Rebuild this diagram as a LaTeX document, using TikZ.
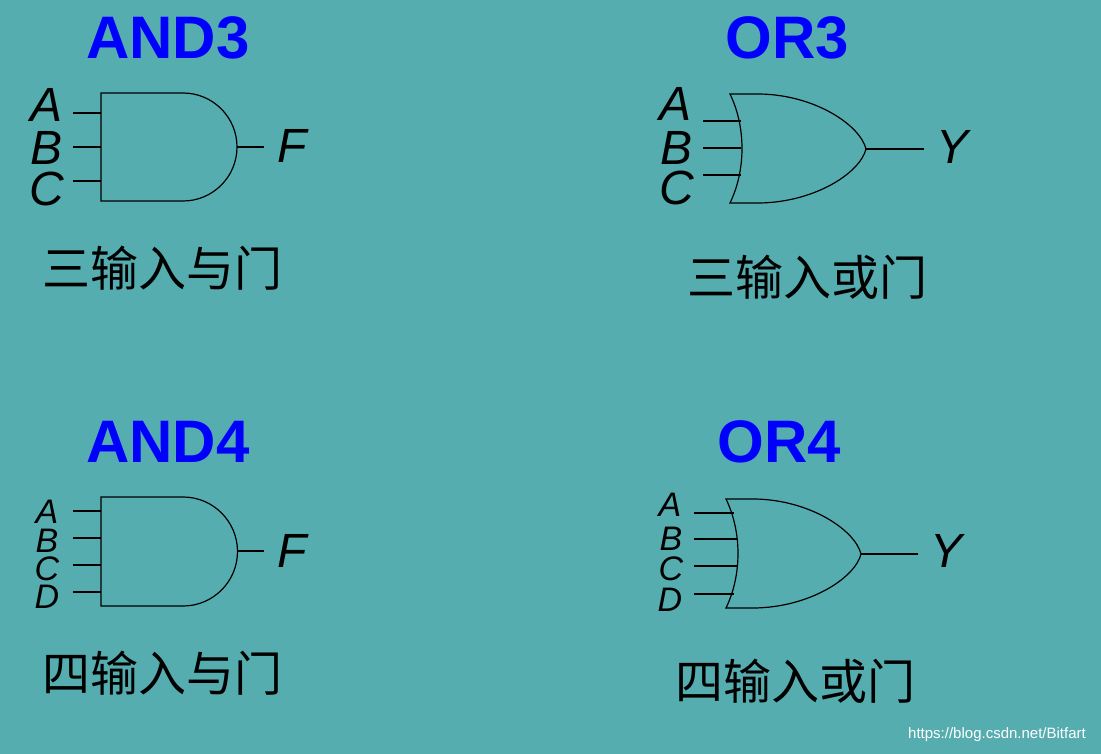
\documentclass[tikz,border=0pt]{standalone}
\usepackage{fontspec}
\setmainfont{Liberation Sans}
\newfontfamily\cjk{Noto Sans CJK SC}
\definecolor{bg}{RGB}{86,173,176}
\definecolor{ttl}{RGB}{0,0,255}
\begin{document}
\begin{tikzpicture}[x=1pt,y=-1pt,
  title/.style={text=ttl,font=\fontsize{60}{60}\selectfont\bfseries,inner sep=0},
  big/.style={font=\fontsize{48}{48}\selectfont\itshape,inner sep=0},
  small/.style={font=\fontsize{34}{34}\selectfont\itshape,inner sep=0},
  zh/.style={font=\cjk\fontsize{48}{48}\selectfont,inner sep=0},
  gate/.style={draw=black,line width=1.2pt},
  wire/.style={draw=black,line width=1.2pt}]
\fill[bg] (0,0) rectangle (1101,754);
\useasboundingbox (0,0) rectangle (1101,754);
% titles
\node[title] (t1) at (168,38) {AND3};
\node[title] (t2) at (787,38) {OR3};
\node[title] (t3) at (168,442) {AND4};
\node[title] (t4) at (779,442) {OR4};
% chinese
\node[zh] (z1) at (162,268) {三输入与门};
\node[zh] (z2) at (807,277) {三输入或门};
\node[zh] (z3) at (162,673) {四输入与门};
\node[zh] (z4) at (795,681) {四输入或门};
\node[text=white,font=\fontsize{15}{15}\selectfont,inner sep=0] (wm) at (997,735) {https://blog.csdn.net/Bitfart};
% AND3
\draw[gate] (183,201) -- (101,201) -- (101,93) -- (183,93) arc[start angle=-90,end angle=90,radius=54];
\foreach \y/\n in {113/a,147/b,181/c}{\coordinate (g1\n) at (73,\y); \coordinate (h1\n) at (101,\y); \draw[wire] (g1\n) -- (h1\n);}
\coordinate (o1) at (237,147); \coordinate (e1) at (264,147); \draw[wire] (o1) -- (e1);
\node[big] (l1a) at (47,105) {A};
\node[big] (l1b) at (47,148) {B};
\node[big] (l1c) at (47,189) {C};
\node[big] (l1f) at (292,146) {F};
% AND4
\draw[gate] (183,606) -- (101,606) -- (101,497) -- (183,497) arc[start angle=-90,end angle=90,radius=54.5];
\foreach \y/\n in {511/a,538/b,565/c,592/d}{\coordinate (g3\n) at (73,\y); \coordinate (h3\n) at (101,\y); \draw[wire] (g3\n) -- (h3\n);}
\coordinate (o3) at (237,551); \coordinate (e3) at (264,551); \draw[wire] (o3) -- (e3);
\node[small] (l3a) at (47,512) {A};
\node[small] (l3b) at (47,541) {B};
\node[small] (l3c) at (47,569) {C};
\node[small] (l3d) at (47,597) {D};
\node[big] (l3f) at (292,551) {F};
% OR3
\draw[gate] (730,203) .. controls (746,170) and (746,127) .. (730,94) -- (760,94)
  .. controls (815,95) and (860,125) .. (866,149)
  .. controls (860,173) and (815,202) .. (760,203) -- cycle;
\foreach \y/\n in {121/a,148/b,175/c}{\coordinate (g2\n) at (703,\y); \coordinate (h2\n) at (741,\y); \draw[wire] (g2\n) -- (h2\n);}
\coordinate (o2) at (866,149); \coordinate (e2) at (924,149); \draw[wire] (o2) -- (e2);
\node[big] (l2a) at (676,104) {A};
\node[big] (l2b) at (677,148) {B};
\node[big] (l2c) at (677,188) {C};
\node[big] (l2y) at (952,147) {Y};
% OR4
\draw[gate] (726,608) .. controls (742,575) and (742,532) .. (726,499) -- (755,499)
  .. controls (810,500) and (855,530) .. (861,554)
  .. controls (855,578) and (810,607) .. (755,608) -- cycle;
\foreach \y/\n/\x in {513/a/734,539/b/737,566/c/737,594/d/734}{\coordinate (g4\n) at (694,\y); \coordinate (h4\n) at (\x,\y); \draw[wire] (g4\n) -- (h4\n);}
\coordinate (o4) at (861,554); \coordinate (e4) at (918,554); \draw[wire] (o4) -- (e4);
\node[small] (l4a) at (670,505) {A};
\node[small] (l4b) at (671,539) {B};
\node[small] (l4c) at (671,569) {C};
\node[small] (l4d) at (670,600) {D};
\node[big] (l4y) at (946,551) {Y};
\end{tikzpicture}
\end{document}
